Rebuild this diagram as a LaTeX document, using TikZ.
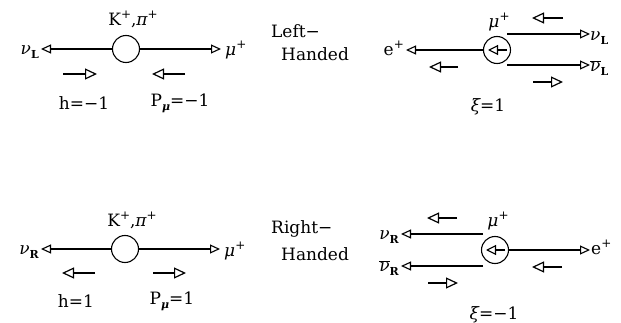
\documentclass[tikz,border=0pt]{standalone}
\usepackage{fontspec}
\setmainfont{DejaVu Serif}
\usetikzlibrary{arrows.meta}
\newcommand\gk[1]{{\itshape #1}}
\newcommand\dn[1]{\raisebox{-0.45ex}{\fontsize{11}{11}\selectfont\bfseries #1}}
\newcommand\up[1]{\raisebox{0.8ex}{\fontsize{12}{12}\selectfont #1}}
\newcommand\nubar{$\overline{\hbox{\gk{ν}}}$}
\tikzset{
  ball/.style={circle,draw,line width=1.1pt,minimum size=27pt,inner sep=0pt},
  lbl/.style={inner sep=0pt,font=\fontsize{17}{19}\selectfont},
  main/.style={line width=1.1pt,-{Triangle[open,length=10pt,width=9pt,line width=1.1pt]}},
  spin/.style={line width=1.2pt,-{Triangle[open,length=12pt,width=11pt,line width=1.2pt]}},
  inner/.style={line width=1.1pt,-{Triangle[open,length=10pt,width=10pt,line width=1.1pt]}}
}
\begin{document}
\begin{tikzpicture}[x=1pt,y=-1pt]
\useasboundingbox (0,0) rectangle (621,323);
% ---------------- top left
\node[ball] (A) at (126,49) {};
\coordinate (A-l) at (41,49);
\coordinate (A-r) at (221,49);
\node[lbl,anchor=east] (A-nu) at (39,52) {\gk{ν}\dn{L}};
\node[lbl,anchor=west] (A-mu) at (225,50) {\gk{μ}\up{+}};
\node[lbl] (A-k) at (133,19) {K\up{+},\gk{π}\up{+}};
\draw[main] (A) -- (A-l);
\draw[main] (A) -- (A-r);
\coordinate (A-s1a) at (63,74); \coordinate (A-s1b) at (97,74);
\coordinate (A-s2a) at (185,74); \coordinate (A-s2b) at (152,74);
\draw[spin] (A-s1a) -- (A-s1b);
\draw[spin] (A-s2a) -- (A-s2b);
\node[lbl] (A-h) at (84,103) {h=−1};
\node[lbl] (A-p) at (180,103) {P\dn{\gk{μ}}=−1};
\node[lbl,anchor=west] (L1) at (271,31) {Left−};
\node[lbl,anchor=west] (L2) at (281,54) {Handed};
% ---------------- top right
\node[ball] (B) at (497,50) {};
\coordinate (B-i1) at (507,50); \coordinate (B-i2) at (488,50);
\draw[inner] (B-i1) -- (B-i2);
\coordinate (B-e) at (406,50);
\draw[main] (B) -- (B-e);
\node[lbl,anchor=east] (B-el) at (404,48) {e\up{+}};
\coordinate (B-u0) at (507,34); \coordinate (B-u1) at (590,34);
\coordinate (B-d0) at (507,65); \coordinate (B-d1) at (590,65);
\draw[main] (B-u0) -- (B-u1);
\draw[main] (B-d0) -- (B-d1);
\node[lbl,anchor=west] (B-nu) at (590,38) {\gk{ν}\dn{L}};
\node[lbl,anchor=west] (B-nub) at (590,68) {\nubar\dn{L}};
\node[lbl] (B-mu) at (499,22) {\gk{μ}\up{+}};
\coordinate (B-s1a) at (563,18); \coordinate (B-s1b) at (532,18);
\coordinate (B-s2a) at (458,67); \coordinate (B-s2b) at (429,67);
\coordinate (B-s3a) at (533,82); \coordinate (B-s3b) at (563,82);
\draw[spin] (B-s1a) -- (B-s1b);
\draw[spin] (B-s2a) -- (B-s2b);
\draw[spin] (B-s3a) -- (B-s3b);
\node[lbl] (B-xi) at (488,107) {\gk{ξ}=1};
% ---------------- bottom left
\node[ball] (C) at (125,249) {};
\coordinate (C-l) at (41,249);
\coordinate (C-r) at (220,249);
\node[lbl,anchor=east] (C-nu) at (39,252) {\gk{ν}\dn{R}};
\node[lbl,anchor=west] (C-mu) at (224,251) {\gk{μ}\up{+}};
\node[lbl] (C-k) at (132,220) {K\up{+},\gk{π}\up{+}};
\draw[main] (C) -- (C-l);
\draw[main] (C) -- (C-r);
\coordinate (C-s1a) at (95,273); \coordinate (C-s1b) at (62,273);
\coordinate (C-s2a) at (153,273); \coordinate (C-s2b) at (186,273);
\draw[spin] (C-s1a) -- (C-s1b);
\draw[spin] (C-s2a) -- (C-s2b);
\node[lbl] (C-h) at (76,301) {h=1};
\node[lbl] (C-p) at (172,301) {P\dn{\gk{μ}}=1};
\node[lbl,anchor=west] (R1) at (271,229) {Right−};
\node[lbl,anchor=west] (R2) at (281,254) {Handed};
% ---------------- bottom right
\node[ball] (D) at (495,250) {};
\coordinate (D-i1) at (505,250); \coordinate (D-i2) at (486,250);
\draw[inner] (D-i1) -- (D-i2);
\coordinate (D-e) at (590,250);
\draw[main] (D) -- (D-e);
\node[lbl,anchor=west] (D-el) at (591,247) {e\up{+}};
\coordinate (D-u0) at (483,234); \coordinate (D-u1) at (401,234);
\coordinate (D-d0) at (483,266); \coordinate (D-d1) at (401,266);
\draw[main] (D-u0) -- (D-u1);
\draw[main] (D-d0) -- (D-d1);
\node[lbl,anchor=east] (D-nu) at (399,237) {\gk{ν}\dn{R}};
\node[lbl,anchor=east] (D-nub) at (399,268) {\nubar\dn{R}};
\node[lbl] (D-mu) at (498,221) {\gk{μ}\up{+}};
\coordinate (D-s1a) at (457,218); \coordinate (D-s1b) at (427,218);
\coordinate (D-s2a) at (562,267); \coordinate (D-s2b) at (532,267);
\coordinate (D-s3a) at (428,283); \coordinate (D-s3b) at (458,283);
\draw[spin] (D-s1a) -- (D-s1b);
\draw[spin] (D-s2a) -- (D-s2b);
\draw[spin] (D-s3a) -- (D-s3b);
\node[lbl] (D-xi) at (494,315) {\gk{ξ}=−1};
\end{tikzpicture}
\end{document}
